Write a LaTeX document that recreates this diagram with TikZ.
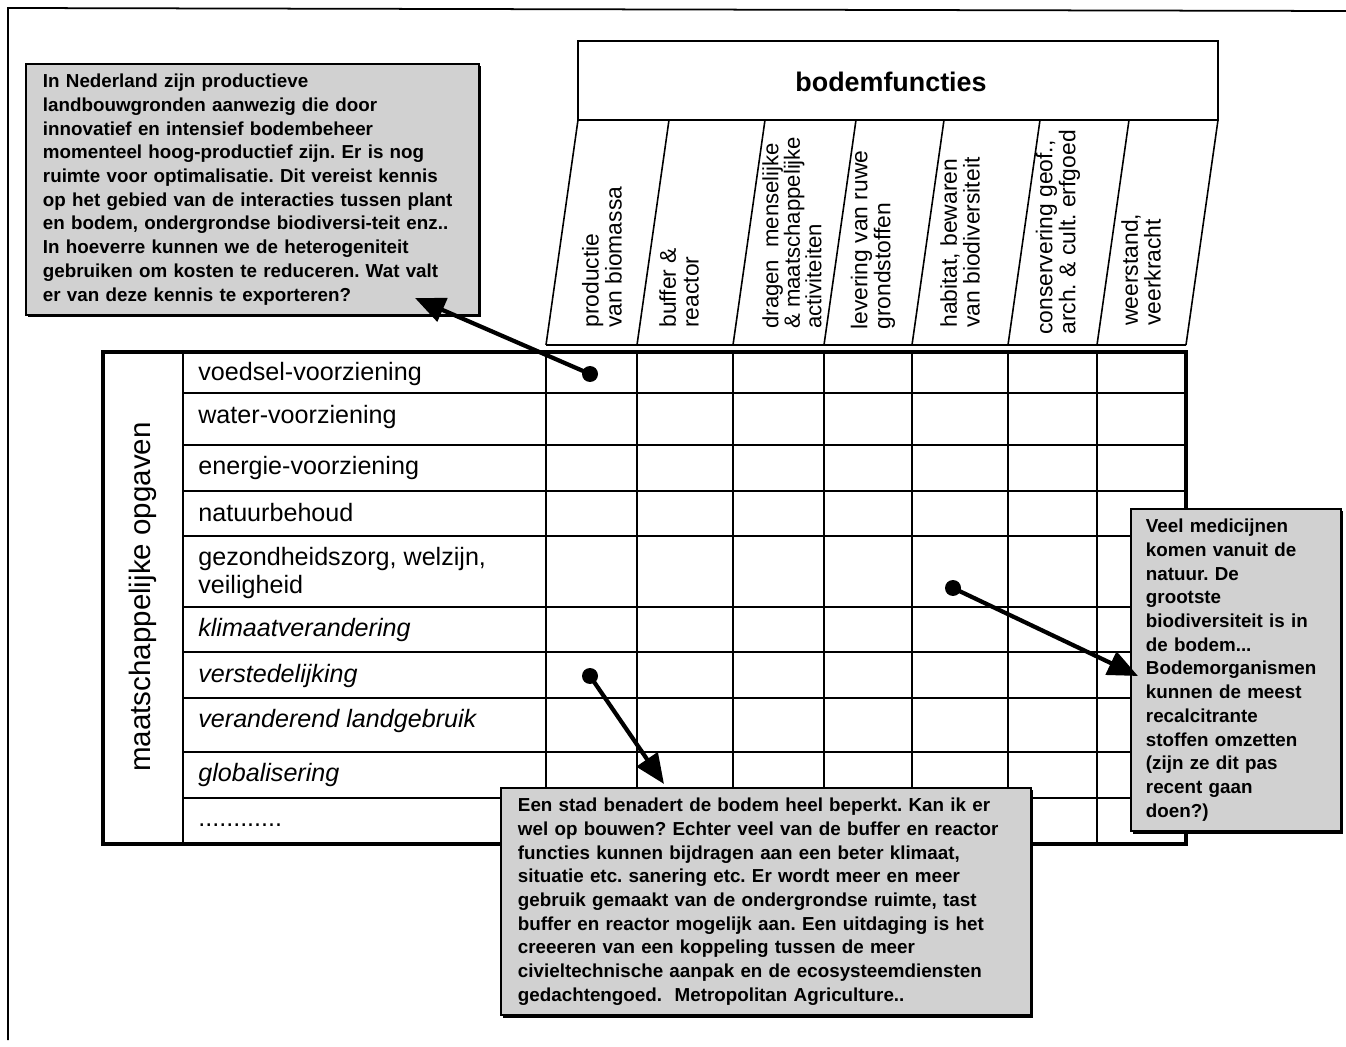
\documentclass[tikz,border=0pt]{standalone}
\usepackage{fontspec}
\setmainfont{Liberation Sans}
\usetikzlibrary{arrows.meta,shadows}
\frenchspacing

\begin{document}
\begin{tikzpicture}[x=0.02cm, y=-0.02cm,
        gridline/.style = {line width=1.4pt},
        slantline/.style = {line width=0.9pt},
        rowlabel/.style = {anchor=west, align=left, inner sep=0pt, font=\fontsize{14.3}{15.5}\selectfont},
        collabel/.style = {rotate=90, anchor=west, align=left, inner sep=0pt, font=\fontsize{13}{13}\selectfont},
        callout/.style = {draw, line width=1.1pt, fill=black!18, align=left, anchor=north west,
            inner ysep=0.2cm, font=\fontsize{10.7}{13.5}\selectfont\bfseries,
            drop shadow={shadow xshift=0.05cm, shadow yshift=-0.05cm, fill=black, opacity=1}},
        dotmark/.style = {circle, fill=black, inner sep=0pt, minimum size=0.32cm},
        pointer/.style = {line width=2.4pt, -{Triangle[length=0.6cm, width=0.5cm]}}
    ]
    \useasboundingbox (0,0) rectangle (1346,1047);
    \draw [line width=1pt] (1346,11) -- (8,8) -- (8,1040);

    % kop: bodemfuncties
    \node [draw, line width=0.9pt, minimum width=12.8cm, minimum height=1.58cm] (bf) at (898,80.5) {};
    \node [font=\fontsize{15.3}{18}\selectfont\bfseries] (bft) at (891,82) {bodemfuncties};
    \draw [slantline] (546,345) -- (1186,345);
    \foreach \x in {546,637,733,824,912,1008,1097,1186}
        \draw [slantline] (\x,345) -- (\x+32,120);
    \node [collabel] (c1) at (602,328) {productie\\van biomassa};
    \node [collabel] (c2) at (679,328) {buffer \&\\reactor};
    \node [collabel, font=\fontsize{12.6}{12.2}\selectfont] (c3) at (792,329) {dragen\ \ menselijke\\\& maatschappelijke\\activiteiten};
    \node [collabel] (c4) at (873,330) {levering van ruwe\\grondstoffen};
    \node [collabel] (c5) at (960,328) {habitat, bewaren\\van biodiversiteit};
    \node [collabel] (c6) at (1058,335) {conservering geof.,\\arch. \& cult. erfgoed};
    \node [collabel] (c7) at (1141,326) {weerstand,\\veerkracht};

    % raster
    \draw [line width=1.8pt] (103,352) rectangle (1186,844);
    \draw [gridline] (183,352) -- (183,844);
    \foreach \y in {393,445,491,536,607,652,698,752,798}
        \draw [gridline] (183,\y) -- (1186,\y);
    \foreach \x in {546,637,733,824,912,1008,1097}
        \draw [gridline] (\x,352) -- (\x,844);

    % maatschappelijke opgaven
    \node [rotate=90, font=\fontsize{16.8}{20}\selectfont] (mo) at (143,597) {maatschappelijke opgaven};
    \node [rowlabel] (r1) at (198,374) {voedsel-voorziening};
    \node [rowlabel] (r2) at (198,417) {water-voorziening};
    \node [rowlabel] (r3) at (198,468) {energie-voorziening};
    \node [rowlabel] (r4) at (198,513) {natuurbehoud};
    \node [rowlabel] (r5) at (198,573) {gezondheidszorg, welzijn,\\veiligheid};
    \node [rowlabel, font=\fontsize{14.3}{15.5}\selectfont\itshape] (r6) at (198,630) {klimaatverandering};
    \node [rowlabel, font=\fontsize{14.3}{15.5}\selectfont\itshape] (r7) at (198,676) {verstedelijking};
    \node [rowlabel, font=\fontsize{14.3}{15.5}\selectfont\itshape] (r8) at (198,721) {veranderend landgebruik};
    \node [rowlabel, font=\fontsize{14.3}{15.5}\selectfont\itshape] (r9) at (198,775) {globalisering};
    \node [rowlabel] (r10) at (198,825) {............};

    % toelichtingen
    \node [callout, inner xsep=0.34cm, text width=8.38cm] (nl) at (25,63)
        {In Nederland zijn productieve\\
        landbouwgronden aanwezig die door\\
        innovatief en intensief bodembeheer\\
        momenteel hoog-productief zijn. Er is nog\\
        ruimte voor optimalisatie. Dit vereist kennis\\
        op het gebied van de interacties tussen plant\\
        en bodem, ondergrondse biodiversi-teit enz..\\
        In hoeverre kunnen we de heterogeniteit\\
        gebruiken om kosten te reduceren. Wat valt\\
        er van deze kennis te exporteren?};
    \node [callout, inner xsep=0.34cm, text width=9.92cm] (stad) at (500,787)
        {Een stad benadert de bodem heel beperkt. Kan ik er\\
        wel op bouwen? Echter veel van de buffer en reactor\\
        functies kunnen bijdragen aan een beter klimaat,\\
        situatie etc. sanering etc. Er wordt meer en meer\\
        gebruik gemaakt van de ondergrondse ruimte, tast\\
        buffer en reactor mogelijk aan. Een uitdaging is het\\
        creeeren van een koppeling tussen de meer\\
        civieltechnische aanpak en de ecosysteemdiensten\\
        gedachtengoed.\ \ Metropolitan Agriculture..};
    \node [callout, inner xsep=0.3cm, text width=3.6cm] (med) at (1130,508)
        {Veel medicijnen\\komen vanuit de\\natuur. De\\grootste\\biodiversiteit is in\\de bodem...\\
        Bodemorganismen\\kunnen de meest\\recalcitrante\\stoffen omzetten\\(zijn ze dit pas\\recent gaan\\doen?)};

    % pijlen
    \node [dotmark] (d1) at (590,374) {};
    \node [dotmark] (d2) at (953,588) {};
    \node [dotmark] (d3) at (590,676) {};
    \coordinate (t1) at (415,298);
    \coordinate (t2) at (1138,676);
    \coordinate (t3) at (664,784);
    \draw [pointer] (d1.center) -- (t1);
    \draw [pointer] (d2.center) -- (t2);
    \draw [pointer] (d3.center) -- (t3);
\end{tikzpicture}
\end{document}
